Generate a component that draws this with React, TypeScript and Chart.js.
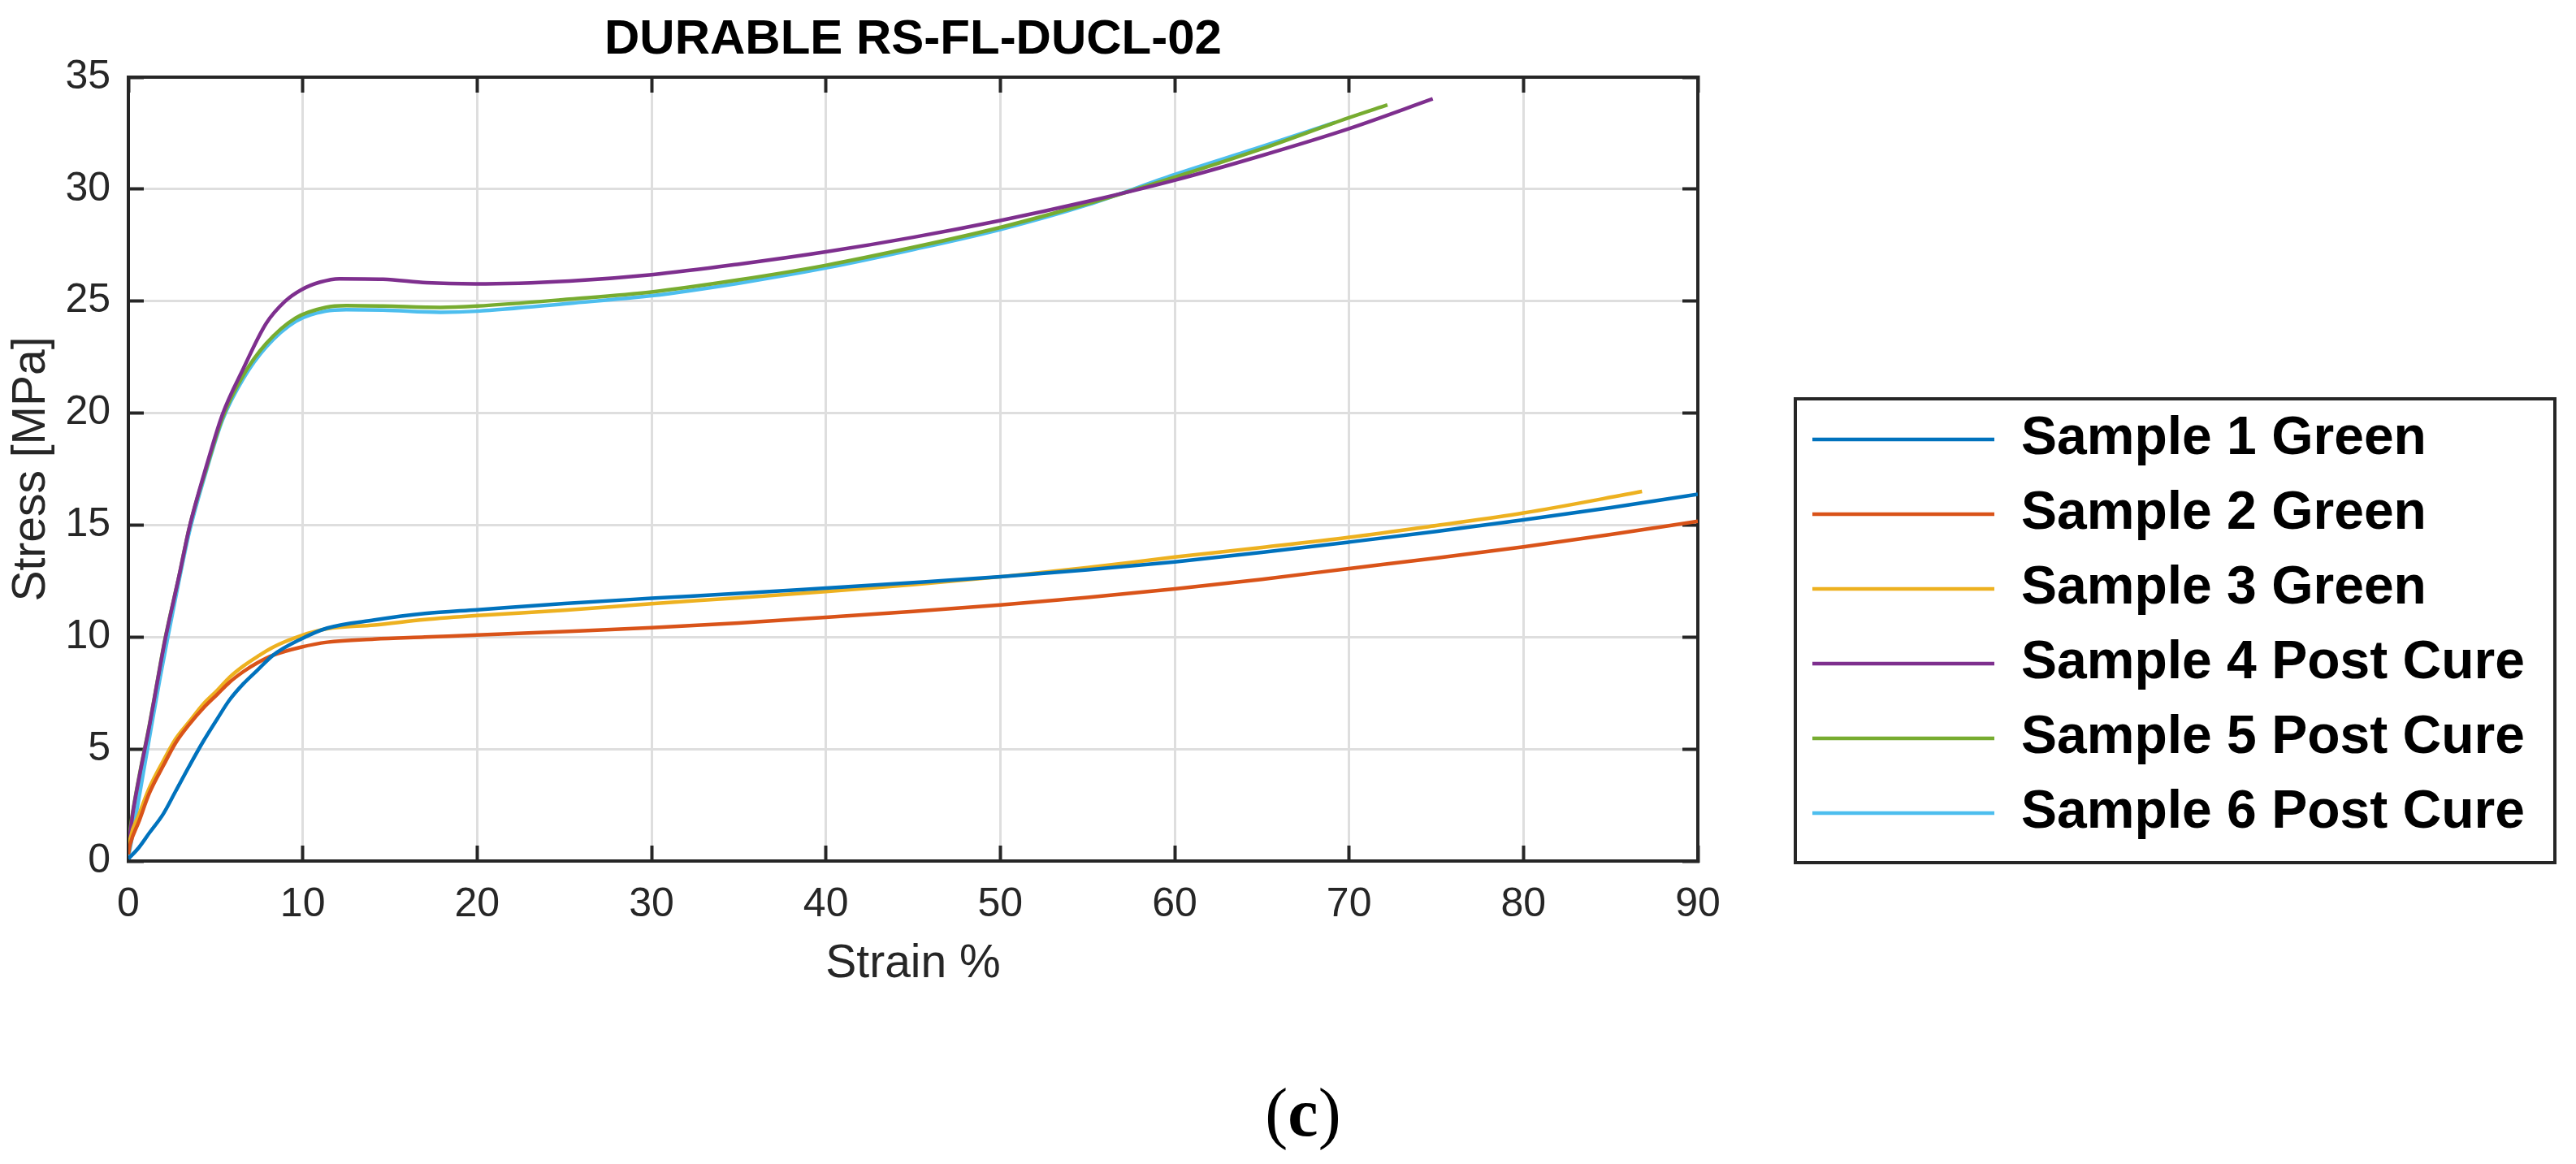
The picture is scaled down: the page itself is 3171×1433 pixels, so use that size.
import { useEffect, useRef } from 'react';
import { Chart, registerables } from 'chart.js';

Chart.register(...registerables);

// strain % / stress MPa
const sample1Strain = [0, 0.6, 1.2, 2.0, 2.7, 3.5, 4.3, 5.1, 5.8, 6.6, 7.4, 8.3, 9.9, 11.4, 14.1, 17, 20, 25, 30, 35, 40, 45, 50, 55, 60, 65, 70, 75, 80, 85, 90];
const sample1Stress = [0.1, 0.6, 1.25, 2.1, 3.1, 4.25, 5.35, 6.35, 7.19, 7.92, 8.52, 9.19, 9.91, 10.4, 10.76, 11.05, 11.22, 11.5, 11.73, 11.95, 12.19, 12.43, 12.69, 13.0, 13.36, 13.78, 14.24, 14.72, 15.23, 15.78, 16.38];

const sample2Strain = [0, 0.1, 0.6, 1.2, 2.0, 2.7, 3.5, 4.3, 5.1, 5.8, 6.6, 7.4, 8.3, 9.9, 11.4, 14.1, 17, 20, 25, 30, 35, 40, 45, 50, 55, 60, 65, 70, 75, 80, 85, 90];
const sample2Stress = [0.3, 0.73, 1.75, 3.02, 4.25, 5.26, 6.11, 6.83, 7.44, 7.98, 8.46, 8.85, 9.19, 9.55, 9.77, 9.91, 10.0, 10.09, 10.25, 10.42, 10.63, 10.88, 11.14, 11.43, 11.77, 12.15, 12.58, 13.06, 13.53, 14.03, 14.58, 15.17];

const sample3Strain = [0, 0.1, 0.6, 1.2, 2.0, 2.7, 3.5, 4.3, 5.1, 5.8, 6.6, 7.4, 8.3, 9.9, 11.4, 14.1, 17, 20, 25, 30, 35, 40, 45, 50, 55, 60, 65, 70, 75, 80, 86.8];
const sample3Stress = [0.4, 0.97, 2.06, 3.26, 4.47, 5.44, 6.23, 7.01, 7.62, 8.2, 8.71, 9.13, 9.55, 10.06, 10.37, 10.54, 10.78, 10.96, 11.2, 11.49, 11.75, 12.03, 12.34, 12.69, 13.1, 13.57, 14.0, 14.45, 14.98, 15.54, 16.5];

const sample4Strain = [0, 0.25, 0.7, 1.2, 1.65, 2.1, 2.9, 3.5, 4.5, 5.4, 6.6, 7.9, 9.0, 9.9, 11, 12.1, 14.6, 17.1, 19.9, 25.3, 30, 35, 40, 45, 50, 55, 60, 65, 70, 74.8];
const sample4Stress = [0.6, 2.1, 4.05, 6.0, 7.95, 9.85, 12.7, 14.9, 17.7, 19.95, 22.0, 24.0, 25.0, 25.5, 25.85, 26.0, 25.98, 25.82, 25.77, 25.9, 26.18, 26.65, 27.2, 27.85, 28.6, 29.45, 30.4, 31.5, 32.7, 34.03];

const sample5Strain = [0, 0.25, 0.7, 1.2, 1.65, 2.1, 2.9, 3.5, 4.5, 5.4, 6.6, 7.9, 9.6, 11.3, 12.5, 14.6, 17.9, 20, 25.3, 30, 35, 40, 45, 50, 55, 60, 65, 70, 72.2];
const sample5Stress = [0.85, 2.18, 4.11, 6.05, 7.98, 9.9, 12.7, 14.9, 17.6, 19.8, 21.7, 23.1, 24.25, 24.72, 24.8, 24.78, 24.72, 24.78, 25.09, 25.41, 25.95, 26.6, 27.4, 28.29, 29.35, 30.53, 31.8, 33.19, 33.76];

const sample6Strain = [0, 0.05, 0.41, 0.87, 1.33, 1.8, 2.27, 2.9, 3.5, 4.5, 5.4, 6.6, 7.9, 9.6, 11.3, 12.5, 14.6, 17.9, 20, 25.3, 30, 35, 40, 45, 50, 55, 60, 65, 69.2];
const sample6Stress = [0.2, 0.37, 1.93, 3.99, 6.05, 8.1, 10.03, 12.5, 14.7, 17.5, 19.7, 21.55, 22.95, 24.1, 24.55, 24.62, 24.6, 24.5, 24.55, 24.9, 25.24, 25.8, 26.48, 27.3, 28.2, 29.3, 30.65, 31.9, 32.98];

const sampleNames = [
	'Sample 1 Green',
	'Sample 2 Green',
	'Sample 3 Green',
	'Sample 4 Post Cure',
	'Sample 5 Post Cure',
	'Sample 6 Post Cure',
];
const sampleColors = ['#0072BD', '#D95319', '#EDB120', '#7E2F8E', '#77AC30', '#4DBEEE'];
const strains = [sample1Strain, sample2Strain, sample3Strain, sample4Strain, sample5Strain, sample6Strain];
const stresses = [sample1Stress, sample2Stress, sample3Stress, sample4Stress, sample5Stress, sample6Stress];

const FONT = "'Liberation Sans', Arial, Helvetica, sans-serif";
const AXIS = '#262626';
const GRID = '#dedede';

// box around the legend, like the MATLAB one
const legendFrame = {
	id: 'legendFrame',
	afterDraw(chart: any) {
		const lg = chart.legend;
		if (!lg || !lg.legendHitBoxes || !lg.legendHitBoxes.length) return;
		const top = lg.legendHitBoxes[0].top - 17;
		const ctx = chart.ctx;
		ctx.save();
		ctx.strokeStyle = AXIS;
		ctx.lineWidth = 4;
		ctx.strokeRect(lg.left + 5, top, 935, lg.bottom + 2 - top);
		ctx.restore();
	},
};

export default function App() {
	const canvasRef = useRef<HTMLCanvasElement | null>(null);
	const chartInstance = useRef<Chart | null>(null);

	useEffect(() => {
		const ctx = canvasRef.current?.getContext('2d');

		if (chartInstance.current) {
			chartInstance.current.destroy();
		}

		if (ctx) {
			// MATLAB style: ticks point inwards
			const tickGrid = {
				color: GRID,
				lineWidth: 3,
				drawTicks: true,
				tickLength: -19,
				tickColor: AXIS,
				tickWidth: 4,
			};

			chartInstance.current = new Chart(ctx, {
				type: 'line',
				data: {
					datasets: sampleNames.map((name, i) => ({
						label: name,
						data: strains[i].map((x, j) => ({ x, y: stresses[i][j] })),
						borderColor: sampleColors[i],
						backgroundColor: sampleColors[i],
						borderWidth: 4.5,
						pointRadius: 0,
						fill: false,
						cubicInterpolationMode: 'monotone' as const,
					})),
				},
				options: {
					responsive: false,
					devicePixelRatio: 1,
					animation: false,
					layout: { padding: { left: 0, right: 61, top: 0, bottom: 0 } },
					scales: {
						x: {
							type: 'linear',
							position: 'bottom',
							min: 0,
							max: 90,
							ticks: {
								stepSize: 10,
								font: { family: FONT, size: 50 },
								color: AXIS,
								padding: 43,
								maxRotation: 0,
							},
							grid: tickGrid,
							border: { display: true, color: AXIS, width: 4 },
							title: {
								display: true,
								text: 'Strain %',
								font: { family: FONT, size: 57 },
								color: AXIS,
								padding: { top: 0, bottom: 212 },
							},
							afterFit: (s: any) => {
								s.height = 373;
							},
						},
						y: {
							type: 'linear',
							position: 'left',
							min: 0,
							max: 35,
							ticks: {
								stepSize: 5,
								font: { family: FONT, size: 50 },
								color: AXIS,
								padding: 41,
							},
							grid: tickGrid,
							border: { display: true, color: AXIS, width: 4 },
							title: {
								display: true,
								text: 'Stress [MPa]',
								font: { family: FONT, size: 57 },
								color: AXIS,
								padding: { top: 5, bottom: 0 },
							},
							afterFit: (s: any) => {
								s.width = 158;
							},
						},
						x2: {
							type: 'linear',
							position: 'top',
							min: 0,
							max: 90,
							ticks: { stepSize: 10, display: false },
							grid: { ...tickGrid, drawOnChartArea: false },
							border: { display: true, color: AXIS, width: 4 },
							afterFit: (s: any) => {
								s.height = 0;
							},
						},
						y2: {
							type: 'linear',
							position: 'right',
							min: 0,
							max: 35,
							ticks: { stepSize: 5, display: false },
							grid: { ...tickGrid, drawOnChartArea: false },
							border: { display: true, color: AXIS, width: 4 },
							afterFit: (s: any) => {
								s.width = 115;
							},
						},
					},
					plugins: {
						title: {
							display: true,
							text: 'DURABLE RS-FL-DUCL-02',
							fullSize: false,
							color: '#000',
							font: { family: FONT, size: 60, weight: 'bold' },
							padding: { top: 13, bottom: 10 },
						},
						legend: {
							position: 'right',
							align: 'end',
							fullSize: false,
							maxWidth: 905,
							labels: {
								usePointStyle: true,
								pointStyle: 'line',
								pointStyleWidth: 224,
								padding: 26,
								color: '#000',
								font: { family: FONT, size: 66, weight: 'bold' },
							},
						},
						tooltip: { enabled: false },
					},
				},
				plugins: [legendFrame],
			} as any);
		}

		return () => {
			if (chartInstance.current) {
				chartInstance.current.destroy();
				chartInstance.current = null;
			}
		};
	}, []);

	return (
		<div style={{ position: 'absolute', left: 0, top: 0, width: 3171, height: 1433, background: '#fff' }}>
			<canvas ref={canvasRef} width={3171} height={1433} style={{ display: 'block' }}></canvas>
			<div
				style={{
					position: 'absolute',
					left: 1404,
					top: 1328,
					width: 400,
					textAlign: 'center',
					fontFamily: "'Liberation Serif', 'Times New Roman', serif",
					fontSize: 84,
					lineHeight: '84px',
					color: '#000',
				}}
			>
				(<b>c</b>)
			</div>
		</div>
	);
}
